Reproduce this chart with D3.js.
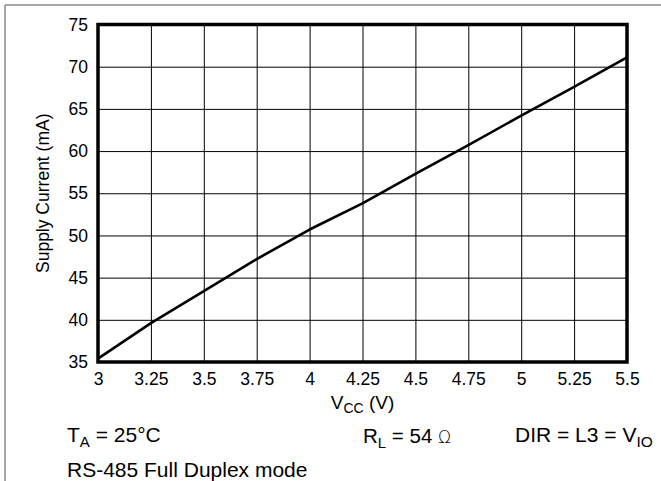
<!DOCTYPE html>
<html>
<head>
<meta charset="utf-8">
<script src="https://cdn.jsdelivr.net/npm/d3@7"></script>
<style>
  html, body { margin: 0; padding: 0; background: #fff; }
  svg { display: block; }
  text { font-family: Arial, "Liberation Sans", sans-serif; fill: #000; }
</style>
</head>
<body>
<svg id="chart" width="661" height="481"></svg>
<script>
// Data
const vcc = [3.0, 3.25, 3.5, 3.75, 4.0, 4.25, 4.5, 4.75, 5.0, 5.25, 5.5];
const supplyCurrent = [35.4, 39.6, 43.4, 47.2, 50.7, 53.8, 57.3, 60.7, 64.2, 67.6, 71.1];
const xTicks = [3, 3.25, 3.5, 3.75, 4, 4.25, 4.5, 4.75, 5, 5.25, 5.5];
const xTickLabels = ["3", "3.25", "3.5", "3.75", "4", "4.25", "4.5", "4.75", "5", "5.25", "5.5"];
const yTicks = [35, 40, 45, 50, 55, 60, 65, 70, 75];
const yTickLabels = ["35", "40", "45", "50", "55", "60", "65", "70", "75"];

(function () {
const svg = d3.select("#chart");
const W = 661, H = 481;
const pL = 98, pR = 627, pT = 24.5, pB = 362;

// outer gray border (left and top visible)
svg.append("line").attr("x1", 5).attr("x2", 5).attr("y1", 5).attr("y2", H)
  .attr("stroke", "#8a8a8a").attr("stroke-width", 1.5);
svg.append("line").attr("x1", 5).attr("x2", W).attr("y1", 5).attr("y2", 5)
  .attr("stroke", "#8a8a8a").attr("stroke-width", 1.5);

const x = d3.scaleLinear().domain([3, 5.5]).range([pL, pR]);
const y = d3.scaleLinear().domain([35, 75]).range([pB, pT]);

// grid + y axis
const yAxis = d3.axisLeft(y).tickValues(yTicks)
  .tickFormat((d, i) => yTickLabels[i])
  .tickSize(-(pR - pL)).tickPadding(10);
const gy = svg.append("g").attr("transform", `translate(${pL},0)`).call(yAxis);
gy.select(".domain").remove();
gy.selectAll("line").attr("stroke", "#000").attr("stroke-width", 1);
gy.selectAll("text").attr("font-size", 17.5).attr("font-family", "Arial, 'Liberation Sans', sans-serif");

const xAxis = d3.axisBottom(x).tickValues(xTicks)
  .tickFormat((d, i) => xTickLabels[i])
  .tickSize(-(pB - pT)).tickPadding(11);
const gx = svg.append("g").attr("transform", `translate(0,${pB})`).call(xAxis);
gx.select(".domain").remove();
gx.selectAll("line").attr("stroke", "#000").attr("stroke-width", 1);
gx.selectAll("text").attr("font-size", 17.5).attr("font-family", "Arial, 'Liberation Sans', sans-serif");

// frame
svg.append("rect").attr("x", pL).attr("y", pT)
  .attr("width", pR - pL).attr("height", pB - pT)
  .attr("fill", "none").attr("stroke", "#000").attr("stroke-width", 3.5);

// curve
const line = d3.line().x((d, i) => x(vcc[i])).y(d => y(d));
svg.append("path").datum(supplyCurrent)
  .attr("d", line).attr("fill", "none")
  .attr("stroke", "#000").attr("stroke-width", 2.6)
  .attr("stroke-linejoin", "round");

// axis titles
const xt = svg.append("text").attr("x", (pL + pR) / 2).attr("y", 409)
  .attr("text-anchor", "middle").attr("font-size", 19);
xt.append("tspan").text("V");
xt.append("tspan").attr("font-size", 14).attr("dy", 4).text("CC");
xt.append("tspan").attr("dy", -4).text(" (V)");

svg.append("text")
  .attr("transform", `translate(49,${(pT + pB) / 2}) rotate(-90)`)
  .attr("text-anchor", "middle").attr("font-size", 17.5)
  .text("Supply Current (mA)");

// annotations
const ta = svg.append("text").attr("x", 67).attr("y", 442).attr("font-size", 21);
ta.append("tspan").text("T");
ta.append("tspan").attr("font-size", 15).attr("dy", 5).text("A");
ta.append("tspan").attr("dy", -5).text(" = 25°C");

const rl = svg.append("text").attr("x", 363).attr("y", 443).attr("font-size", 20.5);
rl.append("tspan").text("R");
rl.append("tspan").attr("font-size", 15).attr("dy", 5).text("L");
rl.append("tspan").attr("dy", -5).text(" = 54 ");
rl.append("tspan").attr("font-size", 17).attr("font-family", "'DejaVu Sans', sans-serif")
  .attr("font-weight", 300).text("Ω");

const dir = svg.append("text").attr("x", 515).attr("y", 442).attr("font-size", 21);
dir.append("tspan").text("DIR = L3 = V");
dir.append("tspan").attr("font-size", 15.5).attr("dy", 5).text("IO");

svg.append("text").attr("x", 67).attr("y", 477).attr("font-size", 21)
  .text("RS-485 Full Duplex mode");
})();
</script>
</body>
</html>
